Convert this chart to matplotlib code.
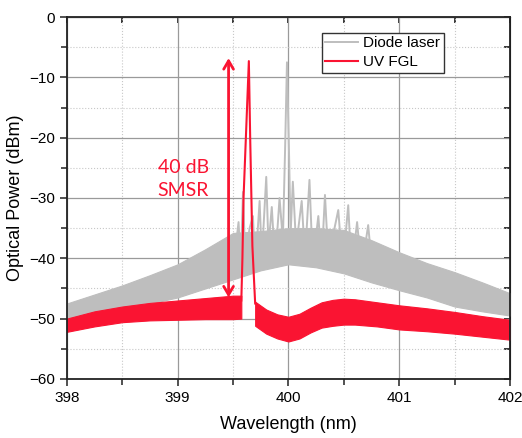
import numpy as np
import matplotlib.pyplot as plt
from matplotlib.ticker import MultipleLocator

# diode laser: envelope of the dense mode comb
diode_wl = [398.0, 398.25, 398.5, 398.75, 399.0, 399.25, 399.5, 399.75, 400.0,
            400.25, 400.5, 400.75, 401.0, 401.25, 401.5, 401.75, 402.0]
diode_top = [-47.5, -46.0, -44.5, -42.8, -41.0, -38.5, -35.8, -35.5, -35.0,
             -35.0, -35.3, -37.0, -39.0, -40.8, -42.3, -44.0, -45.8]
diode_bot = [-50.0, -49.0, -48.0, -47.5, -46.5, -45.0, -43.5, -42.0, -41.0,
             -41.5, -42.5, -44.0, -45.3, -46.5, -48.0, -48.8, -49.5]

# diode laser: spikes around the lasing line
diode_spike_wl = [399.45, 399.50, 399.55, 399.57, 399.59, 399.61, 399.65, 399.68, 399.70,
                  399.74, 399.76, 399.80, 399.82, 399.85, 399.88, 399.92, 399.95,
                  399.97, 399.987, 400.005, 400.02, 400.04, 400.07, 400.12, 400.15,
                  400.19, 400.22, 400.27, 400.30, 400.33, 400.36, 400.45, 400.49,
                  400.54, 400.57, 400.62, 400.66, 400.72, 400.76]
diode_spike_db = [-38.0, -42.0, -34.0, -41.0, -29.0, -40.0, -35.0, -33.0, -42.0,
                  -30.5, -40.0, -26.5, -38.0, -31.5, -41.0, -30.0, -37.0,
                  -22.0, -7.5, -22.0, -36.0, -27.3, -38.0, -30.5, -40.0,
                  -27.0, -41.0, -33.0, -40.5, -29.5, -40.0, -32.0, -41.5,
                  -31.2, -42.0, -34.0, -42.0, -34.5, -42.5]

# UV FGL: envelope left and right of the lasing line
fgl_wl_l = [398.0, 398.25, 398.5, 398.75, 399.0, 399.25, 399.5, 399.575]
fgl_top_l = [-50.0, -48.8, -48.0, -47.4, -47.0, -46.6, -46.2, -46.2]
fgl_bot_l = [-52.2, -51.3, -50.6, -50.3, -50.2, -50.1, -50.1, -50.0]

fgl_wl_r = [399.70, 399.8, 399.9, 400.0, 400.1, 400.2, 400.3, 400.4, 400.5,
            400.6, 400.8, 401.0, 401.25, 401.5, 401.75, 402.0]
fgl_top_r = [-47.2, -48.5, -49.3, -49.7, -49.2, -48.2, -47.3, -46.9, -46.7,
             -46.8, -47.3, -47.8, -48.3, -48.9, -49.6, -50.2]
fgl_bot_r = [-51.2, -52.5, -53.3, -53.8, -53.3, -52.3, -51.5, -51.2, -51.0,
             -51.0, -51.3, -51.8, -52.1, -52.5, -53.0, -53.5]

# UV FGL: lasing line
fgl_peak_wl = [399.575, 399.585, 399.595, 399.643, 399.655, 399.675, 399.70]
fgl_peak_db = [-47.0, -40.0, -30.0, -7.3, -20.0, -38.0, -47.5]

gray = '#bebebe'
red = '#fa1432'

plt.rcParams['font.family'] = ['Liberation Sans', 'DejaVu Sans']

fig = plt.figure(figsize=(5.22, 4.38), dpi=100)
ax = fig.add_axes([0.128, 0.135, 0.849, 0.826])

ax.fill_between(diode_wl, diode_bot, diode_top, color=gray, lw=0.8)
ax.plot(diode_spike_wl, diode_spike_db, color=gray, lw=1.4, label='Diode laser')

ax.fill_between(fgl_wl_l, fgl_bot_l, fgl_top_l, color=red, lw=0.8)
ax.fill_between(fgl_wl_r, fgl_bot_r, fgl_top_r, color=red, lw=0.8)
ax.plot(fgl_peak_wl, fgl_peak_db, color=red, lw=1.5, label='UV FGL')

ax.annotate('', xy=(399.46, -6.8), xytext=(399.46, -46.5),
            arrowprops=dict(arrowstyle='<->,head_length=0.6,head_width=0.35',
                            color=red, lw=2, shrinkA=0, shrinkB=0))
ax.text(399.05, -26.8, '40 dB\nSMSR', color=red, fontsize=14, ha='center',
        va='center', family=['Lato', 'DejaVu Sans'], linespacing=1.45)

ax.set_xlim(398, 402)
ax.set_ylim(-60, 0)
ax.xaxis.set_major_locator(MultipleLocator(1))
ax.xaxis.set_minor_locator(MultipleLocator(0.5))
ax.yaxis.set_major_locator(MultipleLocator(10))
ax.yaxis.set_minor_locator(MultipleLocator(5))

ax.grid(which='major', color='#9a9a9a', lw=0.9)
ax.grid(which='minor', color='#c8c8c8', lw=0.8, ls=':')
ax.set_axisbelow(True)

for s in ax.spines.values():
    s.set_linewidth(1.3)
    s.set_color('#222222')

ax.tick_params(which='both', direction='out', labelsize=11, width=1.1, color='#222222')
ax.tick_params(which='major', length=5)
ax.tick_params(which='minor', length=4)
sec_x = ax.secondary_xaxis('top')
sec_x.xaxis.set_major_locator(MultipleLocator(1))
sec_x.xaxis.set_minor_locator(MultipleLocator(0.5))
sec_x.tick_params(which='both', direction='in', length=4, width=1.1, labeltop=False)
sec_y = ax.secondary_yaxis('right')
sec_y.yaxis.set_major_locator(MultipleLocator(10))
sec_y.yaxis.set_minor_locator(MultipleLocator(5))
sec_y.tick_params(which='both', direction='in', length=4, width=1.1, labelright=False)

ax.set_xlabel('Wavelength (nm)', fontsize=13, labelpad=8)
ax.set_ylabel('Optical Power (dBm)', fontsize=13, labelpad=4)

leg = ax.legend(loc='upper left', bbox_to_anchor=(0.575, 0.957), fontsize=11,
                fancybox=False, edgecolor='#333333', framealpha=1,
                handlelength=2.1, borderpad=0.25, labelspacing=0.3,
                handletextpad=0.35, borderaxespad=0)
leg.get_frame().set_linewidth(1.0)

fig.savefig('out.png', dpi=100)
